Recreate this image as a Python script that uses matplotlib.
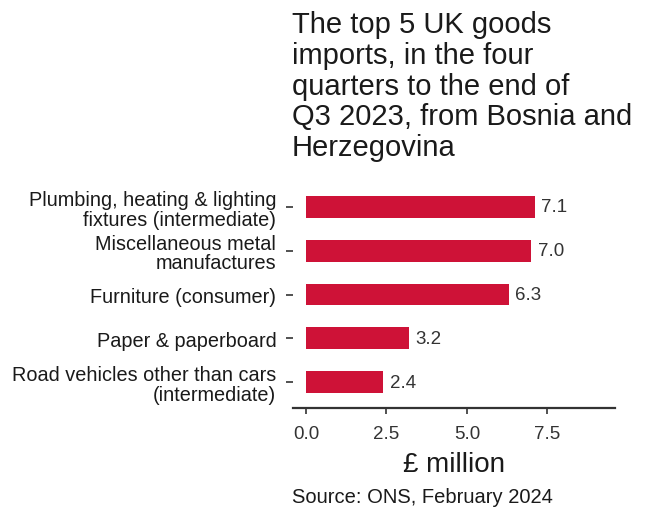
import matplotlib
matplotlib.use("Agg")
import matplotlib.pyplot as plt

plt.rcParams.update({
    "font.family": ["Liberation Sans", "DejaVu Sans"],
})

categories = [
    "Plumbing, heating & lighting\nfixtures (intermediate)",
    "Miscellaneous metal\nmanufactures",
    "Furniture (consumer)",
    "Paper & paperboard",
    "Road vehicles other than cars\n(intermediate)",
]
values = [7.1, 7.0, 6.3, 3.2, 2.4]
value_labels = ["7.1", "7.0", "6.3", "3.2", "2.4"]
xticks = [0.0, 2.5, 5.0, 7.5]
xtick_labels = ["0.0", "2.5", "5.0", "7.5"]

BAR = "#CE1237"
TEXT = "#1a1a1a"

fig = plt.figure(figsize=(6.49, 5.10), dpi=100)
ax = fig.add_axes([0.4515, 0.198, 0.4961, 0.445])

y = list(range(len(categories)))
ax.barh(y, values, height=0.5, color=BAR, edgecolor="none")
for yi, v, lab in zip(y, values, value_labels):
    ax.text(v + 0.2, yi, lab, va="center", ha="left", fontsize=13.5, color="#333333")

ax.set_xlim(-0.4, 9.6)
ax.set_ylim(4.59, -0.59)
ax.set_yticks(y)
ax.set_yticklabels(categories, fontsize=14.3, color=TEXT, linespacing=1.05)
ax.set_xticks(xticks)
ax.set_xticklabels(xtick_labels, fontsize=13.5, color="#333333")
ax.tick_params(axis="y", length=5, width=1.2, color="#333333", pad=7)
ax.tick_params(axis="x", length=4, width=1.2, color="#333333", pad=8)

for s in ("top", "right", "left"):
    ax.spines[s].set_visible(False)
ax.spines["bottom"].set_linewidth(1.6)
ax.spines["bottom"].set_color("#333333")

ax.set_xlabel("£ million", fontsize=20, color=TEXT, labelpad=7)

fig.text(0.45, 0.978, "The top 5 UK goods\nimports, in the four\nquarters to the end of\n"
         "Q3 2023, from Bosnia and\nHerzegovina",
         ha="left", va="top", fontsize=21, color=TEXT, linespacing=1.12)
fig.text(0.45, 0.006, "Source: ONS, February 2024", ha="left", va="bottom",
         fontsize=14.5, color=TEXT)

fig.savefig("out.png", dpi=100)
